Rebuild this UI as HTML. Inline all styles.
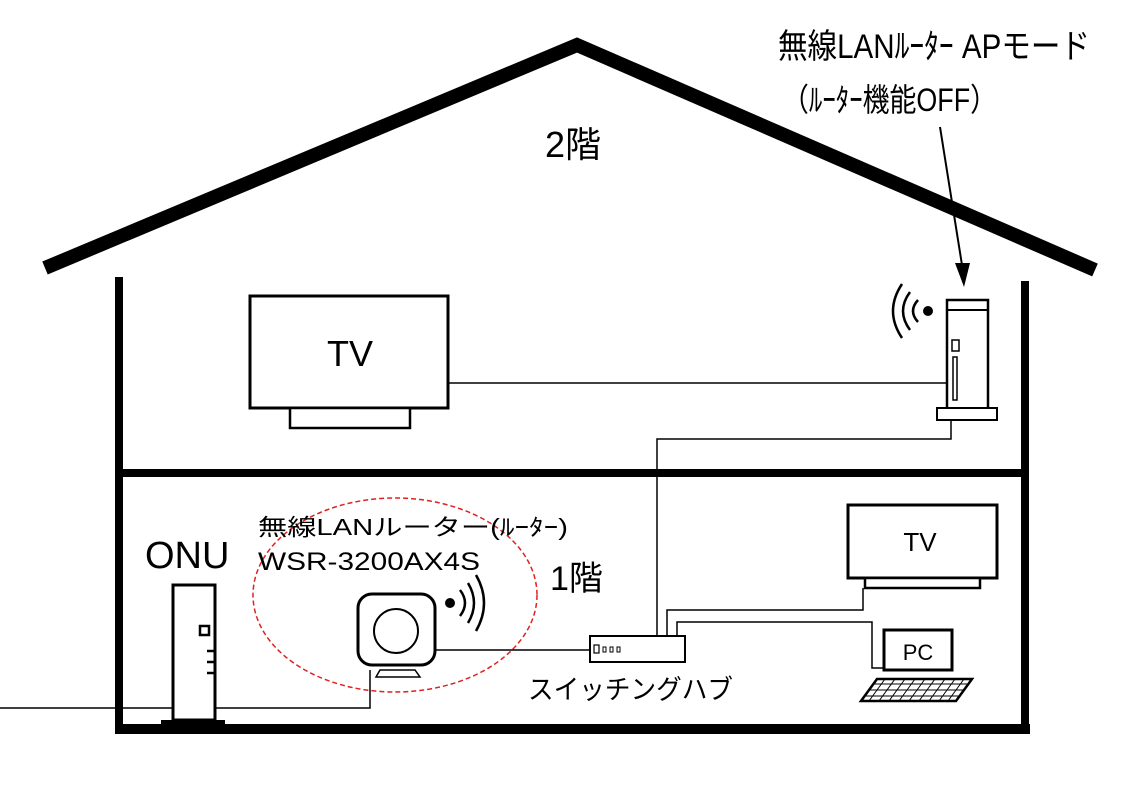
<!DOCTYPE html>
<html><head><meta charset="utf-8"><style>html,body{margin:0;padding:0;background:#fff}svg{display:block}</style></head>
<body>
<svg width="1123" height="794" viewBox="0 0 1123 794" xmlns="http://www.w3.org/2000/svg" font-family="'Liberation Sans','Noto Sans CJK JP',sans-serif">
<rect width="1123" height="794" fill="#fff"/>
<polyline points="45,268 577,45 1095,270" fill="none" stroke="#000" stroke-width="14"/>
<line x1="119" y1="277" x2="119" y2="733" stroke="#000" stroke-width="8"/>
<line x1="1025" y1="281" x2="1025" y2="733" stroke="#000" stroke-width="8"/>
<line x1="119" y1="473" x2="1025" y2="473" stroke="#000" stroke-width="8"/>
<line x1="115" y1="729" x2="1030" y2="729" stroke="#000" stroke-width="10"/>
<text x="778" y="58" font-size="34" textLength="312" lengthAdjust="spacingAndGlyphs">無線LANﾙｰﾀｰ APモード</text>
<text x="782" y="111" font-size="32" textLength="215" lengthAdjust="spacingAndGlyphs">（ﾙｰﾀｰ機能OFF）</text>
<text x="545" y="157" font-size="36">2階</text>
<line x1="940" y1="127" x2="962" y2="265" stroke="#000" stroke-width="2"/>
<polygon points="955,263 970,263 964,287" fill="#000"/>
<rect x="250" y="296" width="198" height="112" fill="#fff" stroke="#000" stroke-width="3"/>
<rect x="290" y="408" width="120" height="20" fill="#fff" stroke="#000" stroke-width="2.5"/>
<text x="350" y="366" font-size="36" text-anchor="middle">TV</text>
<line x1="448" y1="383" x2="947" y2="383" stroke="#000" stroke-width="1.5"/>
<polyline points="951,420 951,439 657,439 657,637" fill="none" stroke="#000" stroke-width="1.5"/>
<rect x="947" y="300" width="41" height="110" fill="#fff" stroke="#000" stroke-width="2.5"/>
<line x1="947" y1="310" x2="988" y2="310" stroke="#000" stroke-width="2"/>
<rect x="952" y="340" width="7" height="11" fill="none" stroke="#000" stroke-width="1.5"/>
<rect x="953" y="357" width="4" height="43" fill="none" stroke="#000" stroke-width="1.5"/>
<rect x="937" y="408" width="60" height="12" fill="#fff" stroke="#000" stroke-width="2"/>
<circle cx="928" cy="311" r="5" fill="#000"/>
<g fill="none" stroke="#000" stroke-width="2.5">
<path d="M918,300 Q908,311 918,322"/><path d="M910,292 Q896,311 910,330"/><path d="M902,284 Q884,311 902,338"/>
</g>
<text x="145" y="568" font-size="38">ONU</text>
<rect x="173" y="585" width="42" height="135" fill="#fff" stroke="#000" stroke-width="3"/>
<rect x="161" y="720" width="64" height="6" fill="#000"/>
<rect x="200" y="626" width="9" height="9" fill="none" stroke="#000" stroke-width="2.5"/>
<line x1="207" y1="651" x2="215" y2="651" stroke="#000" stroke-width="2.5"/>
<line x1="207" y1="662" x2="215" y2="662" stroke="#000" stroke-width="2.5"/>
<line x1="207" y1="673" x2="215" y2="673" stroke="#000" stroke-width="2.5"/>
<line x1="0" y1="708" x2="173" y2="708" stroke="#000" stroke-width="1.5"/>
<polyline points="215,708 370,708 370,670" fill="none" stroke="#000" stroke-width="1.5"/>
<ellipse cx="395" cy="595" rx="142" ry="97" fill="none" stroke="#d22" stroke-width="1.5" stroke-dasharray="5,3"/>
<text x="258" y="535" font-size="23" textLength="310" lengthAdjust="spacingAndGlyphs">無線LANルーター(ﾙｰﾀｰ)</text>
<text x="258" y="570" font-size="25" textLength="222" lengthAdjust="spacingAndGlyphs">WSR-3200AX4S</text>
<rect x="358" y="594" width="77" height="71" rx="14" fill="#fff" stroke="#000" stroke-width="3"/>
<circle cx="396" cy="631" r="22" fill="none" stroke="#000" stroke-width="2"/>
<polygon points="376,677 380,670 415,670 420,677" fill="none" stroke="#000" stroke-width="1.5"/>
<circle cx="450" cy="603" r="5" fill="#000"/>
<g fill="none" stroke="#000" stroke-width="2.5">
<path d="M460,590 Q470,603 460,616"/><path d="M468,583 Q480,603 468,623"/><path d="M476,575 Q492,603 476,631"/>
</g>
<line x1="435" y1="650" x2="590" y2="650" stroke="#000" stroke-width="1.5"/>
<text x="550" y="590" font-size="34">1階</text>
<rect x="590" y="636" width="95" height="26" fill="#fff" stroke="#000" stroke-width="2"/>
<rect x="594" y="645" width="5" height="8" fill="none" stroke="#000" stroke-width="1.2"/>
<rect x="603" y="647" width="3" height="5" fill="none" stroke="#000" stroke-width="1"/>
<rect x="610" y="647" width="3" height="5" fill="none" stroke="#000" stroke-width="1"/>
<rect x="617" y="647" width="3" height="5" fill="none" stroke="#000" stroke-width="1"/>
<text x="528" y="699" font-size="27" textLength="205" lengthAdjust="spacingAndGlyphs">スイッチングハブ</text>
<polyline points="667,636 667,610 863,610 863,588" fill="none" stroke="#000" stroke-width="1.5"/>
<polyline points="677,636 677,622 872,622 872,668 883,668" fill="none" stroke="#000" stroke-width="1.5"/>
<rect x="848" y="505" width="149" height="73" fill="#fff" stroke="#000" stroke-width="3"/>
<rect x="865" y="578" width="115" height="10" fill="#fff" stroke="#000" stroke-width="2.5"/>
<text x="920" y="551" font-size="26" text-anchor="middle">TV</text>
<rect x="884" y="630" width="68" height="40" fill="#fff" stroke="#000" stroke-width="3"/>
<text x="918" y="660" font-size="22" text-anchor="middle">PC</text>
<polygon points="861,701 877,679 972,679 956,701" fill="#fff" stroke="#000" stroke-width="2.5"/>
<g stroke="#000" stroke-width="1">
<line x1="869" y1="690" x2="964" y2="690"/>
<line x1="873" y1="684" x2="968" y2="684"/>
<line x1="865" y1="696" x2="960" y2="696"/>
<line x1="885" y1="679" x2="869" y2="701"/><line x1="895" y1="679" x2="879" y2="701"/><line x1="905" y1="679" x2="889" y2="701"/><line x1="915" y1="679" x2="899" y2="701"/><line x1="925" y1="679" x2="909" y2="701"/><line x1="935" y1="679" x2="919" y2="701"/><line x1="945" y1="679" x2="929" y2="701"/><line x1="955" y1="679" x2="939" y2="701"/><line x1="964" y1="679" x2="948" y2="701"/>
</g>
</svg>
</body></html>
